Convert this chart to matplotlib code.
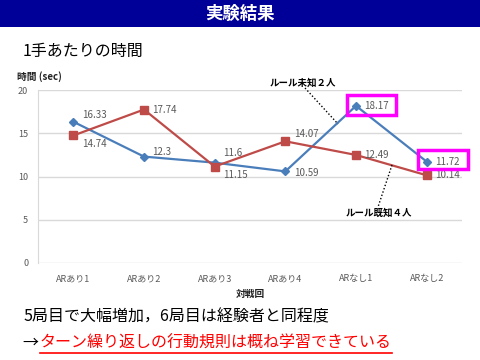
import matplotlib
matplotlib.use("Agg")
import matplotlib.pyplot as plt
from matplotlib.patches import Rectangle
from matplotlib.lines import Line2D

plt.rcParams['font.family'] = ['Noto Sans CJK JP', 'DejaVu Sans']

categories = ["ARあり1", "ARあり2", "ARあり3", "ARあり4", "ARなし1", "ARなし2"]
unknown_rule = [16.33, 12.3, 11.6, 10.59, 18.17, 11.72]   # ルール未知2人 (blue)
known_rule = [14.74, 17.74, 11.15, 14.07, 12.49, 10.14]   # ルール既知4人 (red)
yticks = [0, 5, 10, 15, 20]

# label offsets in points (dx, dy)
blue_off = [(6, 5), (6, 3), (6, 7), (6, -1), (6, 0), (6, 0)]
red_off = [(6, -6), (6, 0), (6, -6), (6, 5), (6, 0), (6, 0)]

fig = plt.figure(figsize=(4.8, 3.6), dpi=100)
fig.patch.set_facecolor("white")

# title bar
fig.patches.append(Rectangle((0, 1 - 27/360), 1, 27/360, transform=fig.transFigure,
                             facecolor="#000099", edgecolor="none", zorder=0))
fig.text(0.5, 1 - 14/360, "実験結果", color="white", fontsize=12.5, fontweight="bold",
         ha="center", va="center")

fig.text(23/480, 1 - 51/360, "1手あたりの時間", fontsize=11.5, ha="left", va="center")
fig.text(17/480, 1 - 77/360, "時間 (sec)", fontsize=7, fontweight="bold", ha="left", va="center",
         color="#222222")

ax = fig.add_axes([38/480, 97/360, 424/480, 173/360])
x = list(range(len(categories)))
ax.plot(x, unknown_rule, color="#4a7ebb", marker="D", markersize=4, lw=1.6, zorder=3)
ax.plot(x, known_rule, color="#be4b48", marker="s", markersize=6, lw=1.6, zorder=3)
ax.set_xlim(-0.5, len(categories) - 0.5)
ax.set_ylim(0, 20)
ax.set_yticks(yticks)
ax.set_xticks(x)
ax.set_xticklabels(categories, fontsize=6.5, color="#595959")
ax.tick_params(axis="y", labelsize=6.5, labelcolor="#595959", length=0, pad=7)
ax.tick_params(axis="x", length=0, pad=8)
ax.grid(axis="y", color="#d9d9d9", lw=1)
for s in ["top", "right", "bottom"]:
    ax.spines[s].set_visible(False)
ax.spines["left"].set_color("#d9d9d9")
ax.set_axisbelow(True)
ax.set_xlabel("対戦回", fontsize=7, fontweight="bold", color="#222222", labelpad=4)

for i, v in enumerate(unknown_rule):
    ax.annotate(f"{v:g}", (i, v), xytext=blue_off[i], textcoords="offset points",
                fontsize=7, color="#595959", ha="left", va="center")
for i, v in enumerate(known_rule):
    ax.annotate(f"{v:g}", (i, v), xytext=red_off[i], textcoords="offset points",
                fontsize=7, color="#595959", ha="left", va="center")

# magenta highlight boxes
for (x0, y0, x1, y1) in [(347, 95, 396, 115), (418, 150, 468, 169)]:
    fig.patches.append(Rectangle((x0/480, 1 - y1/360), (x1 - x0)/480, (y1 - y0)/360,
                                 transform=fig.transFigure, facecolor="none",
                                 edgecolor="#ff00ff", lw=2.5, zorder=5))

# annotations
fig.text(303/480, 1 - 83/360, "ルール未知２人", fontsize=6.8, fontweight="bold",
         ha="center", va="center")
fig.lines.append(Line2D([305/480, 338/480], [1 - 88/360, 1 - 124/360], transform=fig.transFigure,
                        color="black", lw=1, ls=(0, (1, 1.5))))
fig.text(379/480, 1 - 213/360, "ルール既知４人", fontsize=6.8, fontweight="bold",
         ha="center", va="center")
fig.lines.append(Line2D([392/480, 378/480], [1 - 165/360, 1 - 207/360], transform=fig.transFigure,
                        color="black", lw=1, ls=(0, (1, 1.5))))

fig.text(23/480, 1 - 317/360, "5局目で大幅増加，6局目は経験者と同程度", fontsize=11.5,
         ha="left", va="center")
arr = fig.text(22/480, 1 - 343/360, "→", fontsize=11.5, ha="left", va="center")
red = fig.text(40/480, 1 - 343/360, "ターン繰り返しの行動規則は概ね学習できている", fontsize=11.5,
               color="#ff0000", ha="left", va="center")

fig.canvas.draw()
bb = red.get_window_extent().transformed(fig.transFigure.inverted())
fig.lines.append(Line2D([bb.x0, bb.x1], [1 - 353/360, 1 - 353/360], transform=fig.transFigure,
                        color="#ff0000", lw=1.2))

fig.savefig("out.png", dpi=100, facecolor="white")
